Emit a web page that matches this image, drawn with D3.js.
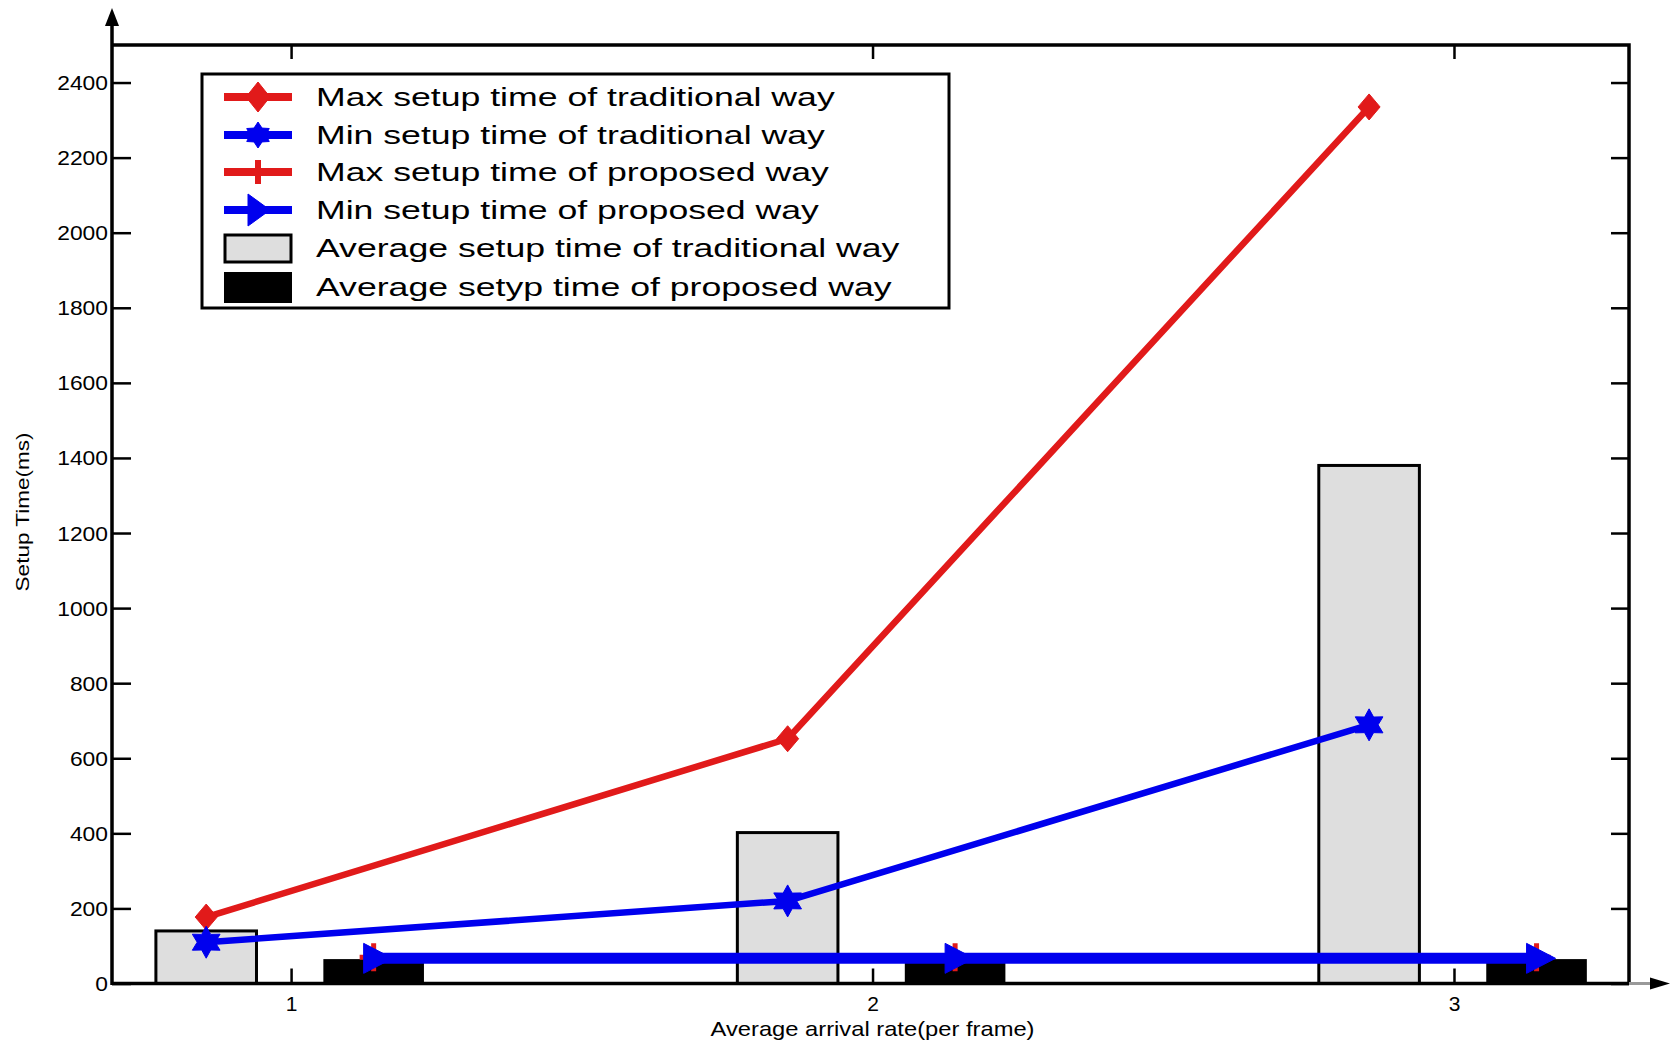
<!DOCTYPE html>
<html>
<head>
<meta charset="utf-8">
<script src="https://cdn.jsdelivr.net/npm/d3@7"></script>
<style>
  html, body { margin: 0; padding: 0; background: #fff; }
  svg { display: block; font-family: "Liberation Sans", Arial, sans-serif; }
</style>
</head>
<body>
<svg id="chart" width="1673" height="1043"></svg>
<script>
// Setup time chart

const categories = [1, 2, 3];
const yTickValues = [0, 200, 400, 600, 800, 1000, 1200, 1400, 1600, 1800, 2000, 2200, 2400];

const maxTraditional = [177, 652, 2335];
const minTraditional = [110, 220, 689];
const maxProposed = [70, 70, 70];
const minProposed = [67, 67, 67];
const avgTraditional = [140, 402, 1380];
const avgProposed = [65, 55, 65];

const legendLabels = [
    "Max setup time of traditional way",
    "Min setup time of traditional way",
    "Max setup time of proposed way",
    "Min setup time of proposed way",
    "Average setup time of traditional way",
    "Average setyp time of proposed way"
];
const xLabel = "Average arrival rate(per frame)";
const yLabel = "Setup Time(ms)";

const RED = "#e11a1a";
const BLUE = "#0000ee";
const GREY = "#dedede";

// plot box
const plotLeft = 112, plotRight = 1629, plotTop = 45, plotBottom = 983.5;
const tradOffset = -0.146, propOffset = 0.142, barWidth = 0.173;

const svg = d3.select("#chart");

const x = d3.scaleLinear().domain([0.692, 3.301]).range([plotLeft, plotRight]);
const y = d3.scaleLinear().domain([0, 2500]).range([plotBottom, plotTop]);

// the scan is stretched sideways, so text gets widened by a factor
function stretch(sel, k) {
    sel.each(function () {
        const w = this.getComputedTextLength();
        d3.select(this).attr("textLength", w * k).attr("lengthAdjust", "spacingAndGlyphs");
    });
}

// marker shapes
const diamond = (hw, hh) => `M0,${-hh}L${hw},0L0,${hh}L${-hw},0Z`;
const hexagram = (ro, ri) => {
    const pts = d3.range(12).map(i => {
        const a = -Math.PI / 2 + i * Math.PI / 6;
        const r = i % 2 ? ri : ro;
        return [r * Math.cos(a), r * Math.sin(a)];
    });
    return "M" + pts.map(p => p.join(",")).join("L") + "Z";
};
const plus = (l) => `M${-l},0H${l}M0,${-l}V${l}`;
const triRight = (b, h, t) => `M${-b},${-h}L${-b},${h}L${t},0Z`;

// ---- bars ----
const barX = (c, off) => x(c + off - barWidth / 2);
const barW = x(barWidth) - x(0);

svg.append("g").selectAll("rect")
    .data(categories.map((c, i) => ({ c, v: avgTraditional[i] })))
    .join("rect")
    .attr("x", d => barX(d.c, tradOffset))
    .attr("y", d => y(d.v))
    .attr("width", barW)
    .attr("height", d => y(0) - y(d.v))
    .attr("fill", GREY)
    .attr("stroke", "#000")
    .attr("stroke-width", 3);

svg.append("g").selectAll("rect")
    .data(categories.map((c, i) => ({ c, v: avgProposed[i] })))
    .join("rect")
    .attr("x", d => barX(d.c, propOffset))
    .attr("y", d => y(d.v))
    .attr("width", barW)
    .attr("height", d => y(0) - y(d.v))
    .attr("fill", "#000");

// ---- lines ----
const series = [
    { values: maxTraditional, off: tradOffset, color: RED, width: 6.5, marker: diamond(11, 13), fill: true },
    { values: minTraditional, off: tradOffset, color: BLUE, width: 6.5, marker: hexagram(16, 9), fill: true },
    { values: maxProposed, off: propOffset, color: RED, width: 8, marker: plus(14), fill: false },
    { values: minProposed, off: propOffset, color: BLUE, width: 11, marker: triRight(10, 15, 19), fill: true }
];

const line = d3.line().x(d => x(d.c)).y(d => y(d.v));

series.forEach(s => {
    const pts = categories.map((c, i) => ({ c: c + s.off, v: s.values[i] }));
    const g = svg.append("g");
    g.append("path")
        .datum(pts)
        .attr("d", line)
        .attr("fill", "none")
        .attr("stroke", s.color)
        .attr("stroke-width", s.width)
        .attr("stroke-linejoin", "round");
    g.selectAll("path.marker")
        .data(pts)
        .join("path")
        .attr("class", "marker")
        .attr("transform", d => `translate(${x(d.c)},${y(d.v)})`)
        .attr("d", s.marker)
        .attr("fill", s.fill ? s.color : "none")
        .attr("stroke", s.color)
        .attr("stroke-width", s.fill ? 1 : 5);
});

// ---- axes ----
const axisG = svg.append("g");

const yAxis = axisG.append("g")
    .attr("transform", `translate(${plotLeft},0)`)
    .call(d3.axisLeft(y).tickValues(yTickValues).tickSize(-19).tickPadding(4).tickFormat(d3.format("d")));
yAxis.select(".domain").remove();
yAxis.selectAll("line").attr("stroke-width", 2.5);
yAxis.selectAll("text")
    .attr("font-size", 19.5)
    .attr("font-family", "Liberation Sans, Arial, sans-serif")
    .attr("fill", "#000")
    .attr("dy", "0.36em")
    .call(stretch, 1.17);

const rAxis = axisG.append("g")
    .attr("transform", `translate(${plotRight},0)`)
    .call(d3.axisRight(y).tickValues(yTickValues).tickSize(-18).tickFormat(""));
rAxis.select(".domain").remove();
rAxis.selectAll("line").attr("stroke-width", 2.5);

const xAxis = axisG.append("g")
    .attr("transform", `translate(0,${plotBottom})`)
    .call(d3.axisBottom(x).tickValues(categories).tickSize(-15).tickPadding(13).tickFormat(d3.format("d")));
xAxis.select(".domain").remove();
xAxis.selectAll("line").attr("stroke-width", 2.5);
xAxis.selectAll("text")
    .attr("font-size", 21)
    .attr("font-family", "Liberation Sans, Arial, sans-serif")
    .attr("fill", "#000");

const tAxis = axisG.append("g")
    .attr("transform", `translate(0,${plotTop})`)
    .call(d3.axisTop(x).tickValues(categories).tickSize(-14).tickFormat(""));
tAxis.select(".domain").remove();
tAxis.selectAll("line").attr("stroke-width", 2.5);

// frame: left axis with arrow, top, right, bottom with arrow
axisG.append("path")
    .attr("d", `M${plotLeft},${plotBottom + 1.5}V22M${plotLeft},${plotTop}H${plotRight}V${plotBottom}M${plotLeft},${plotBottom}H${plotRight}`)
    .attr("fill", "none")
    .attr("stroke", "#000")
    .attr("stroke-width", 3.5);
axisG.append("path")
    .attr("d", `M${plotLeft},8L${plotLeft + 7},26L${plotLeft - 7},26Z`)
    .attr("fill", "#000");
axisG.append("line")
    .attr("x1", plotRight).attr("x2", 1652)
    .attr("y1", plotBottom).attr("y2", plotBottom)
    .attr("stroke", "#999").attr("stroke-width", 3);
axisG.append("path")
    .attr("d", `M1670,${plotBottom}L1650,${plotBottom - 6}L1650,${plotBottom + 6}Z`)
    .attr("fill", "#000");

// axis titles
svg.append("text")
    .attr("x", x(2))
    .attr("y", 1036)
    .attr("text-anchor", "middle")
    .attr("font-size", 21)
    .text(xLabel)
    .call(stretch, 1.13);

svg.append("text")
    .attr("transform", "translate(29,512) rotate(-90)")
    .attr("text-anchor", "middle")
    .attr("font-size", 18)
    .text(yLabel)
    .call(stretch, 1.25);

// ---- legend ----
const legend = svg.append("g");
legend.append("rect")
    .attr("x", 202).attr("y", 74)
    .attr("width", 747).attr("height", 234)
    .attr("fill", "#fff")
    .attr("stroke", "#000")
    .attr("stroke-width", 3);

const rowY = [97, 135, 172, 210, 248, 287];
const legendMarkers = [
    { color: RED, marker: diamond(12, 15), fill: true },
    { color: BLUE, marker: hexagram(13, 8), fill: true },
    { color: RED, marker: "M0,-12V12", fill: false },
    { color: BLUE, marker: triRight(10, 16, 12), fill: true }
];

legendMarkers.forEach((m, i) => {
    legend.append("line")
        .attr("x1", 224).attr("x2", 292)
        .attr("y1", rowY[i]).attr("y2", rowY[i])
        .attr("stroke", m.color).attr("stroke-width", 8);
    legend.append("path")
        .attr("transform", `translate(258,${rowY[i]})`)
        .attr("d", m.marker)
        .attr("fill", m.fill ? m.color : "none")
        .attr("stroke", m.color)
        .attr("stroke-width", m.fill ? 1 : 6);
});

legend.append("rect")
    .attr("x", 225).attr("y", 235).attr("width", 66).attr("height", 27)
    .attr("fill", GREY).attr("stroke", "#000").attr("stroke-width", 3);
legend.append("rect")
    .attr("x", 224).attr("y", 272).attr("width", 68).attr("height", 31)
    .attr("fill", "#000");

legend.selectAll("text.lbl")
    .data(legendLabels)
    .join("text")
    .attr("class", "lbl")
    .attr("x", 316)
    .attr("y", (d, i) => rowY[i] + 9)
    .attr("font-size", 26)
    .text(d => d)
    .call(stretch, 1.37);
</script>
</body>
</html>
